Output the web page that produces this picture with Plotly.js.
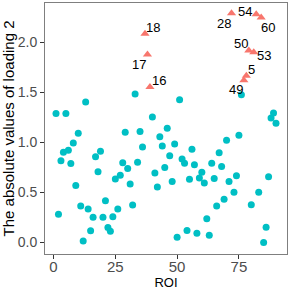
<!DOCTYPE html>
<html>
<head>
<meta charset="utf-8">
<script src="https://cdn.plot.ly/plotly-3.0.1.min.js"></script>
<style>html,body{margin:0;padding:0;background:#fff;}#chart{width:291px;height:291px;}</style>
</head>
<body>
<div id="chart"></div>
<script>
// ROI index 1..90 and absolute loading values
var roi = [];
for (var i = 1; i <= 90; i++) roi.push(i);
var loading = [
  1.289, 0.284, 0.817, 0.902, 1.289, 0.922, 0.791, 0.995, 0.570, 1.092,
  0.365, 0.017, 1.404, 0.335, 0.118, 0.254, 0.857, 0.707, 0.912, 0.254,
  0.419, 0.151, 0.114, 0.258, 0.636, 0.335, 0.673, 0.797, 1.103, 0.741,
  0.586, 0.375, 1.484, 0.804, 1.109, 0.955, 2.087, 1.879, 1.555, 1.256,
  0.696, 0.556, 1.058, 0.965, 0.751, 1.143, 0.867, 0.610, 0.985, 0.053,
  1.427, 0.834, 0.794, 0.121, 0.633, 0.932, 0.777, 0.093, 0.646, 0.704,
  0.596, 0.238, 0.073, 0.794, 0.640, 0.365, 0.897, 0.761, 0.432, 1.022,
  0.610, 2.291, 0.503, 0.668, 1.072, 1.477, 1.621, 1.668, 1.920, 0.379,
  1.902, 2.281, 0.503, 2.248, 0.000, 0.154, 0.658, 1.246, 1.296, 1.193
];
// highlighted ROIs and their text labels
var topRoi = [37, 38, 39, 72, 77, 78, 79, 81, 82, 84];
var topLabels = ["18", "17", "16", "28", "49", "5", "50", "53", "54", "60"];
// label pixel offsets (style)
var labelShiftX = [8, -8, 9, -8, -8, 5, -8, 10, -11, 7];
var labelShiftY = [6, -10, 6, -10, -9, 6, 7, -3, 3, -10];

var xc = [], yc = [], xt = [], yt = [];
for (var k = 0; k < roi.length; k++) {
  if (topRoi.indexOf(roi[k]) >= 0) { xt.push(roi[k]); yt.push(loading[k]); }
  else { xc.push(roi[k]); yc.push(loading[k]); }
}

var traces = [
  {x: xc, y: yc, type: 'scatter', mode: 'markers',
   marker: {symbol: 'circle', size: 7, color: '#00BFC4'}, hoverinfo: 'skip'},
  {x: xt, y: yt, type: 'scatter', mode: 'markers',
   marker: {symbol: 'triangle-up', size: 8, color: '#F8766D'}, hoverinfo: 'skip'}
];

var annotations = topRoi.map(function (r, j) {
  return {x: r, y: loading[r - 1], xref: 'x', yref: 'y', text: topLabels[j],
    showarrow: false, xshift: labelShiftX[j], yshift: labelShiftY[j],
    font: {family: 'Arial, Liberation Sans, sans-serif', size: 13, color: '#000'}};
});

var font = 'Arial, Liberation Sans, sans-serif';
var layout = {
  width: 291, height: 291,
  margin: {l: 45, r: 4, t: 3, b: 37, pad: 0},
  paper_bgcolor: '#fff', plot_bgcolor: '#fff',
  showlegend: false,
  font: {family: font},
  xaxis: {
    range: [-3.45, 94.45], tickvals: [0, 25, 50, 75], ticktext: ['0', '25', '50', '75'],
    showgrid: false, zeroline: false, ticks: 'outside', ticklen: 4, tickcolor: '#333',
    tickfont: {family: font, size: 15, color: '#4D4D4D'}, ticklabelstandoff: -5,
    showline: true, linecolor: '#7f7f7f', linewidth: 1, mirror: true,
    title: {text: 'ROI', font: {family: font, size: 13, color: '#000'}, standoff: 1}
  },
  yaxis: {
    range: [-0.114, 2.394], tickvals: [0, 0.5, 1, 1.5, 2], ticktext: ['0.0', '0.5', '1.0', '1.5', '2.0'],
    showgrid: false, zeroline: false, ticks: 'outside', ticklen: 4, tickcolor: '#333',
    tickfont: {family: font, size: 14, color: '#4D4D4D'},
    showline: true, linecolor: '#7f7f7f', linewidth: 1, mirror: true,
    title: {text: 'The absolute values of loading 2', font: {family: font, size: 15, color: '#000'}, standoff: 4}
  },
  annotations: annotations
};

Plotly.newPlot('chart', traces, layout, {displayModeBar: false, staticPlot: true});
</script>
</body>
</html>
